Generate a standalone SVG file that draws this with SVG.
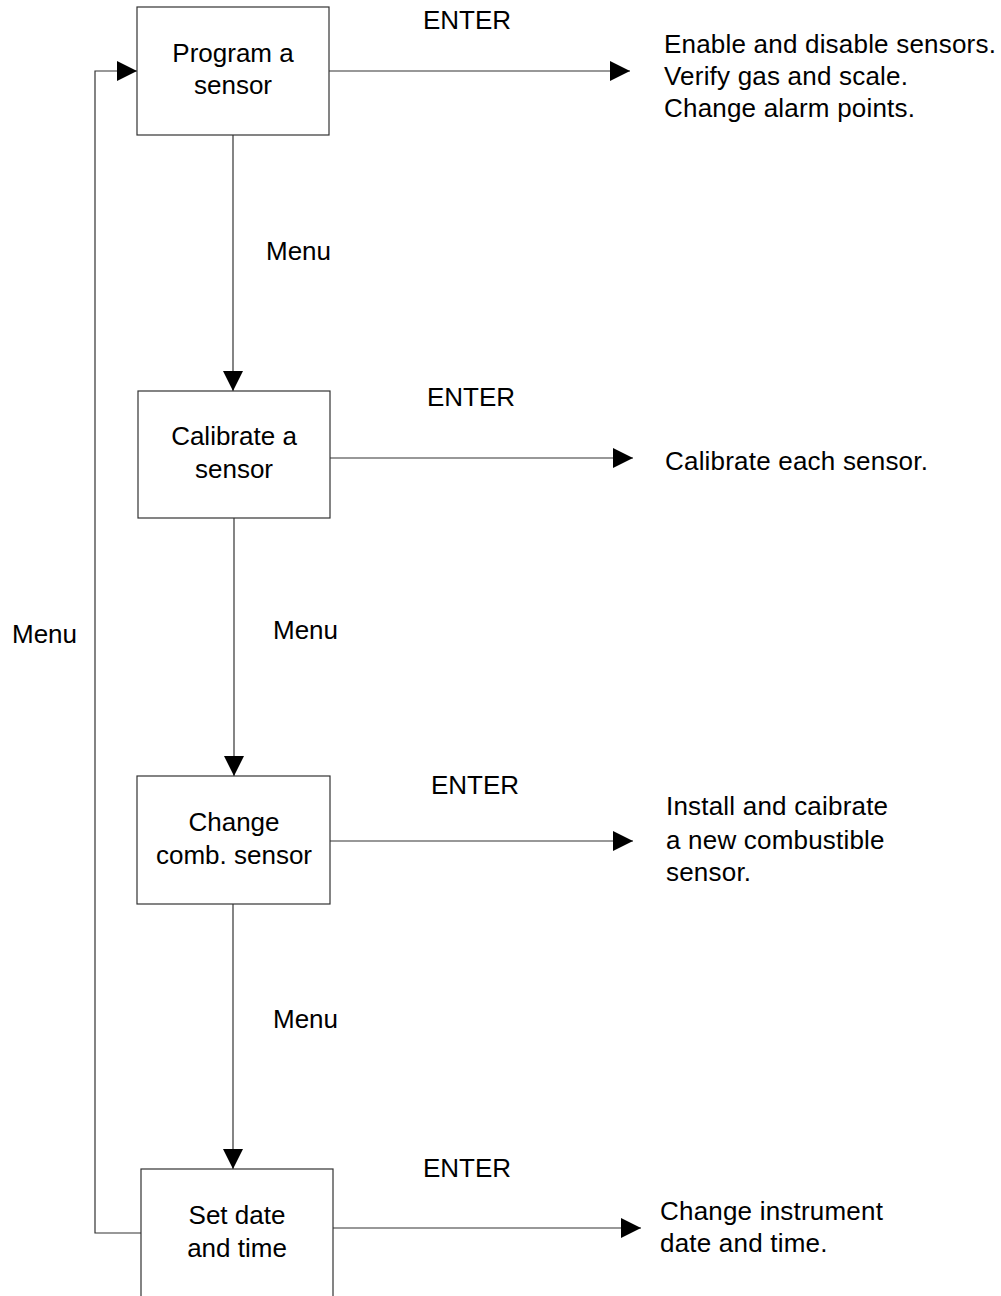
<svg xmlns="http://www.w3.org/2000/svg" width="1001" height="1296" viewBox="0 0 1001 1296">
<style>
.box{fill:#fff;stroke:#333;stroke-width:1.2}
.ln{fill:none;stroke:#333;stroke-width:1.2}
text{font-family:"Liberation Sans",Arial,sans-serif;font-size:26px;fill:#000}
.c{text-anchor:middle}
.d{letter-spacing:0.2px}
</style>
<defs>
<marker id="ah" markerUnits="userSpaceOnUse" markerWidth="20" markerHeight="20" refX="20" refY="10" orient="auto" viewBox="0 0 20 20">
<path d="M0,0 L20,10 L0,20 z" fill="#000"/>
</marker>
</defs>
<g id="connectors">
<line class="ln" x1="329" y1="71" x2="630" y2="71" marker-end="url(#ah)"/>
<line class="ln" x1="330" y1="458" x2="633" y2="458" marker-end="url(#ah)"/>
<line class="ln" x1="330" y1="841" x2="633" y2="841" marker-end="url(#ah)"/>
<line class="ln" x1="333" y1="1228" x2="641" y2="1228" marker-end="url(#ah)"/>
<line class="ln" x1="233" y1="135" x2="233" y2="391" marker-end="url(#ah)"/>
<line class="ln" x1="234" y1="518" x2="234" y2="776" marker-end="url(#ah)"/>
<line class="ln" x1="233" y1="904" x2="233" y2="1169" marker-end="url(#ah)"/>
<polyline class="ln" points="141,1233 95,1233 95,71 137,71" marker-end="url(#ah)"/>
<text x="423" y="29">ENTER</text>
<text x="427" y="406">ENTER</text>
<text x="431" y="794">ENTER</text>
<text x="423" y="1177">ENTER</text>
<text x="266" y="260">Menu</text>
<text x="273" y="639">Menu</text>
<text x="273" y="1028">Menu</text>
<text x="12" y="643">Menu</text>
</g>
<g id="program">
<rect class="box" x="137" y="7" width="192" height="128"/>
<text class="c" x="233" y="62">Program a</text>
<text class="c" x="233" y="94">sensor</text>
</g>
<g id="calibrate">
<rect class="box" x="138" y="391" width="192" height="127"/>
<text class="c" x="234" y="445">Calibrate a</text>
<text class="c" x="234" y="478">sensor</text>
</g>
<g id="change">
<rect class="box" x="137" y="776" width="193" height="128"/>
<text class="c" x="234" y="831">Change</text>
<text class="c" x="234" y="864">comb. sensor</text>
</g>
<g id="setdate">
<rect class="box" x="141" y="1169" width="192" height="130"/>
<text class="c" x="237" y="1224">Set date</text>
<text class="c" x="237" y="1257">and time</text>
</g>
<g id="desc1">
<text class="d" x="664" y="53">Enable and disable sensors.</text>
<text class="d" x="664" y="85">Verify gas and scale.</text>
<text class="d" x="664" y="117">Change alarm points.</text>
</g>
<g id="desc2">
<text class="d" x="665" y="470">Calibrate each sensor.</text>
</g>
<g id="desc3">
<text class="d" x="666" y="815">Install and caibrate</text>
<text class="d" x="666" y="849">a new combustible</text>
<text class="d" x="666" y="881">sensor.</text>
</g>
<g id="desc4">
<text class="d" x="660" y="1220">Change instrument</text>
<text class="d" x="660" y="1252">date and time.</text>
</g>
</svg>
